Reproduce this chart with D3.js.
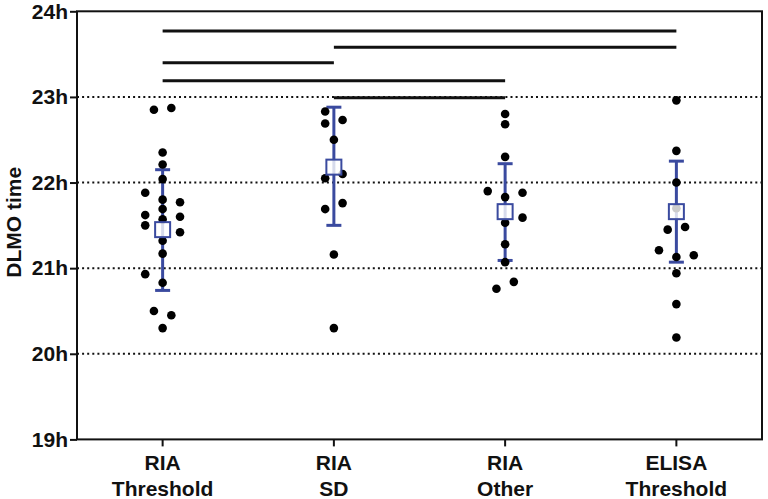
<!DOCTYPE html>
<html>
<head>
<meta charset="utf-8">
<script src="https://cdn.jsdelivr.net/npm/d3@7"></script>
<style>
  html, body { margin: 0; padding: 0; background: #fff; }
  svg { display: block; }
  text { font-family: "Liberation Sans", Arial, sans-serif; font-weight: bold; fill: #111; }
</style>
</head>
<body>
<svg id="chart" width="768" height="499"></svg>
<script>
// ---- data ----
const categories = ["RIA|Threshold", "RIA|SD", "RIA|Other", "ELISA|Threshold"];
const yTicks = [19, 20, 21, 22, 23, 24];
const gridHours = [20, 21, 22, 23];

const valuesRiaThreshold = [22.85, 22.87, 22.35, 22.21, 22.04, 21.88, 21.80, 21.77, 21.69, 21.62, 21.60, 21.57, 21.50, 21.42, 21.32, 21.17, 20.93, 20.83, 20.50, 20.45, 20.30];
const slotsRiaThreshold  = [-1, 1, 0, 0, 0, -2, 0, 2, 0, -2, 2, 0, -2, 2, 0, 0, -2, 0, -1, 1, 0];
const valuesRiaSD = [22.83, 22.69, 22.73, 22.50, 22.05, 22.10, 21.69, 21.76, 21.16, 20.30];
const slotsRiaSD  = [-1, -1, 1, 0, -1, 1, -1, 1, 0, 0];
const valuesRiaOther = [22.80, 22.68, 22.30, 21.90, 21.88, 21.83, 21.59, 21.53, 21.28, 21.07, 20.84, 20.76];
const slotsRiaOther  = [0, 0, 0, -2, 2, 0, 2, 0, 0, 0, 1, -1];
const valuesElisa = [22.96, 22.37, 22.00, 21.70, 21.45, 21.48, 21.21, 21.13, 21.15, 20.94, 20.58, 20.19];
const slotsElisa  = [0, 0, 0, 0, -1, 1, -2, 0, 2, 0, 0, 0];

const means = [21.45, 22.18, 21.66, 21.66];
const errLow = [20.74, 21.50, 21.09, 21.07];
const errHigh = [22.15, 22.88, 22.22, 22.25];

// significance brackets: from index, to index, level (h)
const sigFrom = [0, 1, 0, 0, 1];
const sigTo   = [3, 3, 1, 2, 2];
const sigLevel = [23.77, 23.58, 23.40, 23.19, 22.99];

const groupValues = [valuesRiaThreshold, valuesRiaSD, valuesRiaOther, valuesElisa];
const groupSlots = [slotsRiaThreshold, slotsRiaSD, slotsRiaOther, slotsElisa];

// ---- layout ----
const mLeft = 77, mRight = 762, mTop = 11.3, mBottom = 439.4;
const blue = "#3a4a9f";
const slotW = 8.7;

const svg = d3.select("#chart");
const x = d3.scaleBand().domain(categories).range([mLeft, mRight]).paddingInner(0).paddingOuter(0);
const cx = c => x(c) + x.bandwidth() / 2;
const y = d3.scaleLinear().domain([19, 24]).range([mBottom, mTop]);

// gridlines
svg.append("g").selectAll("line").data(gridHours).join("line")
  .attr("x1", mLeft).attr("x2", mRight)
  .attr("y1", d => y(d)).attr("y2", d => y(d))
  .attr("stroke", "#111").attr("stroke-width", 2)
  .attr("stroke-dasharray", "2,3.1");

// significance bars
svg.append("g").selectAll("line").data(sigLevel.map((l, i) => ({ a: sigFrom[i], b: sigTo[i], l })))
  .join("line")
  .attr("x1", d => cx(categories[d.a])).attr("x2", d => cx(categories[d.b]))
  .attr("y1", d => y(d.l)).attr("y2", d => y(d.l))
  .attr("stroke", "#111").attr("stroke-width", 3);

// error bars
const eb = svg.append("g");
categories.forEach((c, i) => {
  const xc = cx(c);
  eb.append("line").attr("x1", xc).attr("x2", xc).attr("y1", y(errLow[i])).attr("y2", y(errHigh[i]))
    .attr("stroke", blue).attr("stroke-width", 3);
  [errLow[i], errHigh[i]].forEach(v => {
    eb.append("line").attr("x1", xc - 7.5).attr("x2", xc + 7.5).attr("y1", y(v)).attr("y2", y(v))
      .attr("stroke", blue).attr("stroke-width", 3);
  });
});

// dots
const pts = [];
groupValues.forEach((vals, gi) => vals.forEach((v, j) => pts.push({ g: gi, v, s: groupSlots[gi][j] })));
svg.append("g").selectAll("circle").data(pts).join("circle")
  .attr("cx", d => cx(categories[d.g]) + d.s * slotW)
  .attr("cy", d => y(d.v))
  .attr("r", 4.3)
  .attr("fill", "#000");

// mean boxes
svg.append("g").selectAll("rect").data(means).join("rect")
  .attr("x", (d, i) => cx(categories[i]) - 7.5)
  .attr("y", d => y(d) - 7.5)
  .attr("width", 15).attr("height", 15)
  .attr("fill", "#fff").attr("fill-opacity", 0.8)
  .attr("stroke", blue).attr("stroke-width", 2);

// frame
svg.append("rect").attr("x", mLeft).attr("y", mTop).attr("width", mRight - mLeft).attr("height", mBottom - mTop)
  .attr("fill", "none").attr("stroke", "#111").attr("stroke-width", 2);

// y axis
const yAxis = d3.axisLeft(y).tickValues(yTicks).tickFormat(d => d + "h").tickSize(7).tickPadding(2);
const ya = svg.append("g").attr("transform", `translate(${mLeft},0)`).call(yAxis);
ya.select(".domain").remove();
ya.selectAll(".tick line").attr("stroke", "#111").attr("stroke-width", 2);
ya.selectAll(".tick text").attr("font-size", 21).attr("font-family", "Liberation Sans, Arial, sans-serif").attr("font-weight", "bold").attr("fill", "#111");

// x axis
const xAxis = d3.axisBottom(x).tickSize(7).tickFormat("");
const xa = svg.append("g").attr("transform", `translate(0,${mBottom})`).call(xAxis);
xa.select(".domain").remove();
xa.selectAll(".tick line").attr("stroke", "#111").attr("stroke-width", 2);
categories.forEach(c => {
  const parts = c.split("|");
  const t = svg.append("text").attr("text-anchor", "middle").attr("font-size", 21);
  t.append("tspan").attr("x", cx(c)).attr("y", 470).text(parts[0]);
  t.append("tspan").attr("x", cx(c)).attr("y", 496).text(parts[1]);
});

// y title
svg.append("text").attr("transform", `translate(21,${(mTop + mBottom) / 2 - 3}) rotate(-90)`)
  .attr("text-anchor", "middle").attr("font-size", 21).text("DLMO time");
</script>
</body>
</html>
